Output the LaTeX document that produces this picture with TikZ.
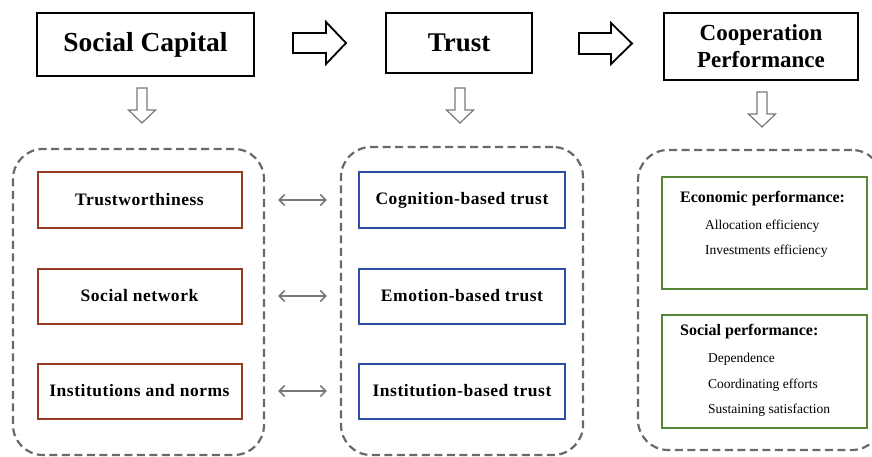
\documentclass[tikz,border=0pt]{standalone}
\usepackage{fontspec}
\setmainfont{Liberation Serif}
\newfontfamily\spacedserif[LetterSpace=3]{Liberation Serif}
\usetikzlibrary{arrows.meta}
\definecolor{boxred}{RGB}{150,58,36}
\definecolor{boxblue}{RGB}{45,80,165}
\definecolor{boxgreen}{RGB}{85,135,55}
\definecolor{dashgrey}{RGB}{105,105,105}
\definecolor{arrowgrey}{RGB}{120,120,120}
\begin{document}
\begin{tikzpicture}[x=1pt,y=-1pt,
  headbox/.style={draw=black, line width=1.8pt, inner sep=0pt, align=center},
  group/.style={draw=dashgrey, line width=2.2pt, dash pattern=on 8pt off 4.5pt,
    rounded corners=30pt, inner sep=0pt},
  itembox/.style={draw, line width=2pt, inner sep=0pt, minimum width=204pt,
    minimum height=55pt, font=\spacedserif\bfseries\fontsize{17.5}{20}\selectfont},
  perfbox/.style={draw=boxgreen, line width=1.8pt, inner sep=0pt,
    minimum width=205pt},
  perfhead/.style={anchor=west, inner sep=0pt, font=\bfseries\fontsize{16}{18}\selectfont},
  perfline/.style={anchor=west, inner sep=0pt, font=\fontsize{13.5}{16}\selectfont},
  blockarrow/.style={draw=black, line width=1.8pt, fill=white, line join=miter},
  biarrow/.style={draw=arrowgrey, line width=1.6pt,
    {Straight Barb[length=5.5pt,width=11pt]}-{Straight Barb[length=5.5pt,width=11pt]}},
  down block/.pic={
    \draw[draw=arrowgrey, line width=1.2pt, fill=white]
      (-5,0) -- (5,0) -- (5,22) -- (13.5,22) -- (0,35) -- (-13.5,22) -- (-5,22) -- cycle;
  }
]
\useasboundingbox (0,0) rectangle (872,457);
\clip (0,0) rectangle (872,457);

% top row
\node[headbox, minimum width=217pt, minimum height=63pt,
  font=\bfseries\fontsize{27.5}{30}\selectfont] (sc) at (145.5,44.5) {Social Capital};
\node[headbox, minimum width=146pt, minimum height=60pt,
  font=\bfseries\fontsize{27}{30}\selectfont] (tr) at (459,43) {Trust};
\node[headbox, minimum width=194pt, minimum height=67pt,
  font=\bfseries\fontsize{23}{27}\selectfont] (cp) at (761,46.5) {Cooperation\\Performance};

% hollow block arrows between the headings
\draw[blockarrow] (293,33) -- (326,33) -- (326,22) -- (346,43) -- (326,64) -- (326,53) -- (293,53) -- cycle;
\draw[blockarrow] (579,33) -- (611,33) -- (611,23) -- (632,43.5) -- (611,64) -- (611,54) -- (579,54) -- cycle;

% grey arrows down to the groups
\pic at (142,88) {down block};
\pic at (460,88) {down block};
\pic at (762,92) {down block};

% dashed groups
\node[group, minimum width=251pt, minimum height=306pt] (lg) at (138.5,302) {};
\node[group, minimum width=242pt, minimum height=308pt] (mg) at (462,301) {};
\node[group, minimum width=244pt, minimum height=300pt] (rg) at (760,300) {};

% social capital items
\node[itembox, draw=boxred] (s1) at (139.5,200) {Trustworthiness};
\node[itembox, draw=boxred] (s2) at (139.5,296) {Social network};
\node[itembox, draw=boxred] (s3) at (139.5,391) {Institutions and norms};

% trust items
\node[itembox, draw=boxblue, minimum width=206pt] (t1) at (462,200) {Cognition-based trust};
\node[itembox, draw=boxblue, minimum width=206pt] (t2) at (462,296) {Emotion-based trust};
\node[itembox, draw=boxblue, minimum width=206pt] (t3) at (462,391) {Institution-based trust};

% links between the two groups
\draw[biarrow, shorten <=13pt, shorten >=13pt] (lg.east |- s1.east) -- (mg.west |- s1.east);
\draw[biarrow, shorten <=13pt, shorten >=13pt] (lg.east |- s2.east) -- (mg.west |- s2.east);
\draw[biarrow, shorten <=13pt, shorten >=13pt] (lg.east |- s3.east) -- (mg.west |- s3.east);

% performance boxes
\node[perfbox, minimum height=112pt] (ep) at (764.5,233) {};
\node[perfhead] (eph) at (680,199) {Economic performance:};
\node[perfline] (ep1) at (705,226) {Allocation efficiency};
\node[perfline] (ep2) at (705,251) {Investments efficiency};

\node[perfbox, minimum height=113pt] (sp) at (764.5,371.5) {};
\node[perfhead] (sph) at (680,332) {Social performance:};
\node[perfline] (sp1) at (708,359) {Dependence};
\node[perfline] (sp2) at (708,385) {Coordinating efforts};
\node[perfline] (sp3) at (708,410) {Sustaining satisfaction};
\end{tikzpicture}
\end{document}
